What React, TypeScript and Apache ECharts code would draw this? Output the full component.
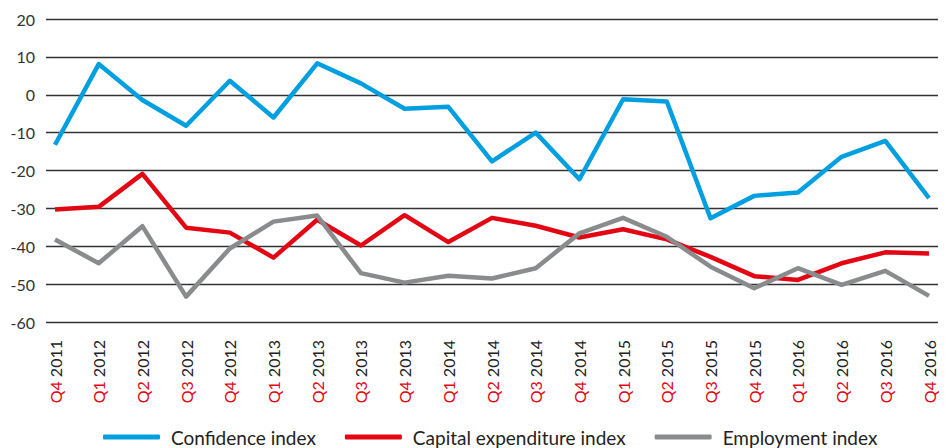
import React, { useEffect, useRef } from "react";
import * as echarts from "echarts";

const categories = [
  "Q4 2011", "Q1 2012", "Q2 2012", "Q3 2012", "Q4 2012", "Q1 2013", "Q2 2013",
  "Q3 2013", "Q4 2013", "Q1 2014", "Q2 2014", "Q3 2014", "Q4 2014", "Q1 2015",
  "Q2 2015", "Q3 2015", "Q4 2015", "Q1 2016", "Q2 2016", "Q3 2016", "Q4 2016",
];

const confidenceIndex = [
  -13.2, 8.1, -1.4, -8.2, 3.7, -6.0, 8.3, 3.0, -3.7, -3.2, -17.6,
  -10.0, -22.3, -1.2, -1.8, -32.6, -26.7, -25.8, -16.4, -12.2, -27.3,
];
const capexIndex = [
  -30.3, -29.6, -20.9, -35.1, -36.4, -43.0, -33.0, -39.8, -31.8, -38.9, -32.5,
  -34.6, -37.7, -35.5, -38.2, -42.8, -47.9, -48.9, -44.5, -41.6, -41.9,
];
const employmentIndex = [
  -38.2, -44.5, -34.7, -53.3, -40.6, -33.5, -31.9, -47.1, -49.6, -47.8, -48.5,
  -45.8, -36.6, -32.5, -37.5, -45.4, -51.1, -45.8, -50.2, -46.5, -53.1,
];
const yTicks = { min: -60, max: 20, interval: 10 };

const BLUE = "#009FDF";
const RED = "#E30613";
const GRAY = "#898B8D";
const FONT = "Lato";

export default function App() {
  const ref = useRef<HTMLDivElement>(null);
  useEffect(() => {
    if (!ref.current) return;
    const chart = echarts.init(ref.current, null, { renderer: "svg" });
    const lineSeries = (name: string, data: number[], color: string) => ({
      name,
      type: "line",
      xAxisIndex: 0,
      yAxisIndex: 0,
      data,
      symbol: "none",
      lineStyle: { color, width: 4.5, join: "round" },
      itemStyle: { color },
    });
    chart.setOption({
      animation: false,
      textStyle: { fontFamily: FONT },
      grid: [
        { left: 55, right: 18, top: 19, bottom: 126 },
        { left: 46, right: 9, top: 19, bottom: 126 },
      ],
      xAxis: [
        {
          gridIndex: 0,
          type: "category",
          data: categories,
          boundaryGap: false,
          axisLine: { show: false },
          axisTick: { show: false },
          splitLine: { show: false },
          axisLabel: {
            rotate: 90,
            margin: 18,
            interval: 0,
            fontFamily: FONT,
            fontSize: 16,
            formatter: (v: string) => {
              const [q, y] = v.split(" ");
              return `{q|${q}} {y|${y}}`;
            },
            rich: {
              q: { color: RED, fontSize: 16, fontFamily: FONT },
              y: { color: "#222", fontSize: 16, fontFamily: FONT },
            },
          },
        },
        { gridIndex: 1, type: "value", min: 0, max: 1, show: false },
      ],
      yAxis: [
        { gridIndex: 0, type: "value", ...yTicks, show: false },
        {
          gridIndex: 1,
          type: "value",
          ...yTicks,
          axisLine: { show: false },
          axisTick: { show: false },
          splitLine: { show: true, lineStyle: { color: "#333", width: 1.3 } },
          axisLabel: { color: "#333", fontSize: 16, margin: 11, fontFamily: FONT },
        },
      ],
      legend: {
        top: 427,
        left: 103,
        padding: 0,
        icon: "roundRect",
        itemWidth: 57,
        itemHeight: 5,
        itemGap: 29,
        textStyle: { color: "#222", fontSize: 19, lineHeight: 20, fontFamily: FONT, padding: [0, 0, 0, 6] },
        data: ["Confidence index", "Capital expenditure index", "Employment index"],
      },
      series: [
        lineSeries("Confidence index", confidenceIndex, BLUE),
        lineSeries("Capital expenditure index", capexIndex, RED),
        lineSeries("Employment index", employmentIndex, GRAY),
      ],
    });
    return () => chart.dispose();
  }, []);
  return (
    <div
      ref={ref}
      style={{ position: "fixed", left: 0, top: 0, width: 947, height: 448, background: "#fff" }}
    />
  );
}
